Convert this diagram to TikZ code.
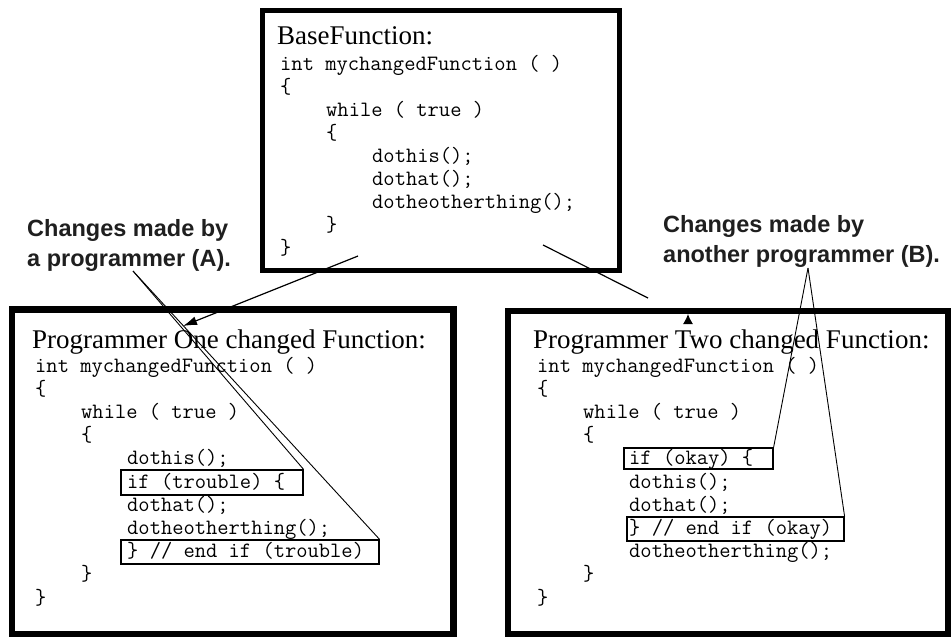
\documentclass[tikz,border=0pt]{standalone}
\usepackage{fontspec}
\setmainfont{Liberation Serif}
\setmonofont{Latin Modern Mono}
\newfontfamily\labelfont{Liberation Sans}
\usetikzlibrary{arrows.meta}
\begin{document}
\begin{tikzpicture}[x=1pt,y=-1pt,
  topbox/.style={draw, line width=5pt, inner sep=0pt},
  bigbox/.style={draw, line width=6.5pt, inner sep=0pt},
  ttl/.style={anchor=base west, inner sep=0pt, font=\fontsize{27}{27}\selectfont},
  code/.style={anchor=base west, inner sep=0pt, font=\ttfamily\fontsize{21.9}{23}\selectfont},
  hlbox/.style={draw, line width=1.2pt, inner sep=0pt},
  lbl/.style={anchor=north west, inner sep=0pt, align=left, text=black!88, font=\labelfont\bfseries\fontsize{23.5}{30}\selectfont},
  pointer/.style={line width=0.9pt},
  arr/.style={line width=1.2pt, -{Latex[length=14pt,width=9pt]}},
  thinline/.style={line width=1.2pt},
  uparr/.style={line width=1.2pt, -{Latex[length=10pt,width=10pt]}}
]
\useasboundingbox (0,0) rectangle (951,637);
\fill[white] (0,0) rectangle (951,637);

% frames
\node[topbox, minimum width=357pt, minimum height=260.5pt] (base) at (441,140.25) {};
\node[bigbox, minimum width=441.5pt, minimum height=325pt] (one) at (232.75,472) {};
\node[bigbox, minimum width=440pt, minimum height=323.5pt] (two) at (728,472.75) {};

% base function
\node[ttl] (t0) at (277,45) {BaseFunction:};
\node[code] (t1) at (280,70) {int mychangedFunction ( )};
\node[code] (t2) at (280,93) {\{};
\node[code] (t3) at (326,116) {while ( true )};
\node[code] (t4) at (326,139) {\{};
\node[code] (t5) at (372,162) {dothis();};
\node[code] (t6) at (372,185) {dothat();};
\node[code] (t7) at (372,208) {dotheotherthing();};
\node[code] (t8) at (326,231) {\}};
\node[code] (t9) at (280,254) {\}};

% programmer one
\node[ttl] (l0) at (32,348) {Programmer One changed Function:};
\node[code] (l1) at (35,372) {int mychangedFunction ( )};
\node[code] (l2) at (35,395.2) {\{};
\node[code] (l3) at (81,418.4) {while ( true )};
\node[code] (l4) at (81,441.6) {\{};
\node[code] (l5) at (127,464.8) {dothis();};
\node[code] (l6) at (127,488) {if (trouble) \{};
\node[code] (l7) at (127,511.2) {dothat();};
\node[code] (l8) at (127,534.4) {dotheotherthing();};
\node[code] (l9) at (127,557.6) {\} // end if (trouble)};
\node[code] (l10) at (81,580.8) {\}};
\node[code] (l11) at (35,604) {\}};
\node[hlbox, minimum width=182pt, minimum height=25pt] (hA1) at (212,482.5) {};
\node[hlbox, minimum width=258pt, minimum height=24pt] (hA2) at (250,552) {};

% programmer two
\node[ttl] (r0) at (533,348) {Programmer Two changed Function:};
\node[code] (r1) at (537,372) {int mychangedFunction ( )};
\node[code] (r2) at (537,395.2) {\{};
\node[code] (r3) at (583,418.4) {while ( true )};
\node[code] (r4) at (583,441.6) {\{};
\node[code] (r5) at (629,464.8) {if (okay) \{};
\node[code] (r6) at (629,488) {dothis();};
\node[code] (r7) at (629,511.2) {dothat();};
\node[code] (r8) at (629,534.4) {\} // end if (okay)};
\node[code] (r9) at (629,557.6) {dotheotherthing();};
\node[code] (r10) at (583,580.8) {\}};
\node[code] (r11) at (537,604) {\}};
\node[hlbox, minimum width=149pt, minimum height=21pt] (hB1) at (698.5,458.5) {};
\node[hlbox, minimum width=217pt, minimum height=24pt] (hB2) at (735.5,529) {};

% labels
\node[lbl] (labA) at (27,219) {Changes made by\\a programmer (A).};
\node[lbl] (labB) at (663,215) {Changes made by\\another programmer (B).};

% pointers
\coordinate (apA) at (133,271);
\coordinate (apB) at (808,268);
\draw[pointer] (apA) -- (hA1.north east);
\draw[pointer] (apA) -- (hA2.north east);
\draw[pointer] (apB) -- (hB1.north east);
\draw[pointer] (apB) -- (hB2.north east);

% arrows from base
\coordinate (a1s) at (358,256);
\coordinate (a1e) at (183,326);
\draw[arr] (a1s) -- (a1e);
\coordinate (a2s) at (543,245);
\coordinate (a2e) at (648,298);
\draw[thinline] (a2s) -- (a2e);
\coordinate (a3s) at (688,324);
\coordinate (a3e) at (688,314);
\draw[uparr] (a3s) -- (a3e);
\end{tikzpicture}
\end{document}
